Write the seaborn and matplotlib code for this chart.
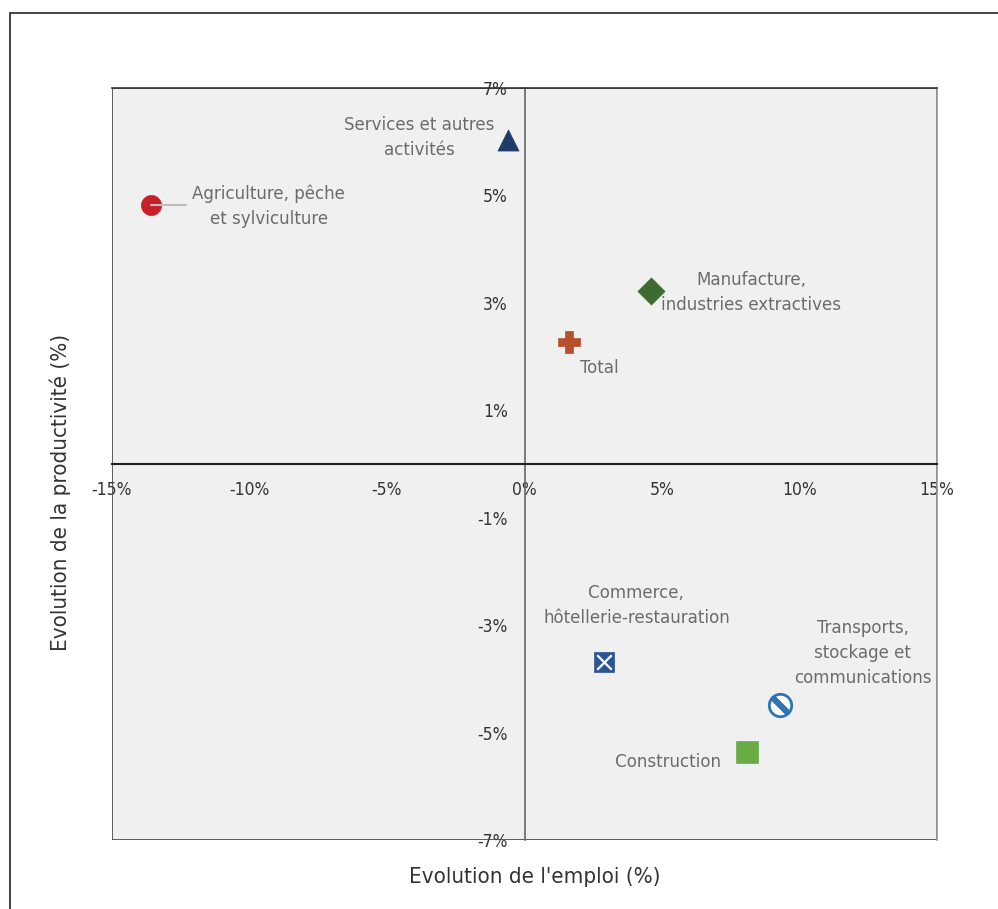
import matplotlib
matplotlib.use('Agg')
import matplotlib.pyplot as plt
from matplotlib.patches import Rectangle
import seaborn as sns

# Data
sectors = ['Agriculture, pêche\net sylviculture', 'Services et autres\nactivités',
           'Manufacture,\nindustries extractives', 'Total',
           'Commerce,\nhôtellerie-restauration', 'Transports,\nstockage et\ncommunications',
           'Construction']
emploi = [-13.6, -0.6, 4.6, 1.6, 2.9, 9.3, 8.1]
productivite = [4.82, 6.03, 3.22, 2.27, -3.69, -4.49, -5.36]

x_ticks = [-15, -10, -5, 0, 5, 10, 15]
y_ticks = [7, 5, 3, 1, -1, -3, -5, -7]

sns.set_theme(style='white')
plt.rcParams['font.family'] = ['DejaVu Sans']
plt.rcParams['font.stretch'] = 'condensed'

fig = plt.figure(figsize=(9.98, 9.09), dpi=100)
ax = fig.add_axes([112 / 998, 69 / 909, 825 / 998, 752 / 909])
ax.set_facecolor('#f0f0f0')

# outer frame of the figure (cut off on the right and bottom)
fig.patches.append(Rectangle((9.5 / 998, -0.1), 1.2, 1.1 - 13 / 909, transform=fig.transFigure,
                             fill=False, edgecolor='#222222', linewidth=1.2))

# markers
styles = [
    dict(marker='o', s=210, color='#c8202a'),
    dict(marker='^', s=230, color='#1f3b6a'),
    dict(marker='D', s=190, color='#3d6b30'),
    dict(marker='P', s=250, color='#b5502a'),
    dict(marker='s', s=210, color='#2b5494'),
    dict(marker='o', s=260, color='white'),
    dict(marker='s', s=260, color='#6aab45'),
]
for i, st in enumerate(styles):
    ec = '#2e75b6' if i == 5 else st['color']
    sns.scatterplot(x=[emploi[i]], y=[productivite[i]], marker=st['marker'], s=st['s'],
                    color=st['color'], edgecolor=ec, linewidth=2 if i == 5 else 0.5,
                    ax=ax, zorder=5)

# white cross on the commerce square, stripe in the transport circle
sns.scatterplot(x=[emploi[4]], y=[productivite[4]], marker='x', s=110, color='white',
                linewidth=1.6, ax=ax, zorder=6)
sns.scatterplot(x=[emploi[5]], y=[productivite[5]], marker=(2, 2, 45), s=190, color='#2e75b6',
                linewidth=4, ax=ax, zorder=6)

# leader line for agriculture
ax.plot([emploi[0], -12.3], [productivite[0], productivite[0]], color='#bdbdbd', lw=1.5, zorder=6)

lab_col = '#6b6b6b'
fs = 13.3
ls = 1.5
ax.text(-9.3, 4.80, sectors[0], ha='center', va='center', color=lab_col, fontsize=fs, linespacing=ls)
ax.text(-3.84, 6.07, sectors[1], ha='center', va='center', color=lab_col, fontsize=fs, linespacing=ls)
ax.text(8.24, 3.20, sectors[2], ha='center', va='center', color=lab_col, fontsize=fs, linespacing=ls)
ax.text(2.71, 1.79, sectors[3], ha='center', va='center', color=lab_col, fontsize=fs, linespacing=ls)
ax.text(4.07, -2.64, sectors[4], ha='center', va='center', color=lab_col, fontsize=fs, linespacing=ls)
ax.text(12.3, -3.52, sectors[5], ha='center', va='center', color=lab_col, fontsize=fs, linespacing=ls)
ax.text(5.22, -5.55, sectors[6], ha='center', va='center', color=lab_col, fontsize=fs, linespacing=ls)

ax.set_xlim(-15, 15)
ax.set_ylim(-7, 7)

# axes through zero, frame drawn as a patch
ax.spines['left'].set_position(('data', 0))
ax.spines['bottom'].set_position(('data', 0))
ax.spines['left'].set_color('#666666')
ax.spines['bottom'].set_color('#222222')
ax.spines['left'].set_linewidth(1.2)
ax.spines['bottom'].set_linewidth(1.5)
ax.spines['top'].set_color('#333333')
ax.spines['right'].set_color('#999999')
ax.spines['top'].set_linewidth(1.2)
ax.spines['right'].set_linewidth(1.2)
ax.add_patch(Rectangle((0, 0), 1, 1, transform=ax.transAxes, fill=False,
                       edgecolor='#444444', linewidth=1.2, zorder=1))

ax.set_xticks(x_ticks)
ax.set_xticklabels([f'{v}%' for v in x_ticks])
ax.set_yticks(y_ticks)
ax.set_yticklabels([f'{v}%' for v in y_ticks])
ax.tick_params(axis='both', direction='inout', length=12, width=1, color='#222222',
               labelsize=12.5, labelcolor='#333333')
ax.tick_params(axis='x', pad=6)
ax.tick_params(axis='y', pad=6)

fig.text(535 / 998, 1 - 877 / 909, "Evolution de l'emploi (%)", ha='center', va='center',
         fontsize=16, color='#333333')
fig.text(60 / 998, 1 - 492 / 909, 'Evolution de la productivité (%)', ha='center', va='center',
         rotation=90, fontsize=16, color='#333333')

fig.savefig('out.png', dpi=100)
